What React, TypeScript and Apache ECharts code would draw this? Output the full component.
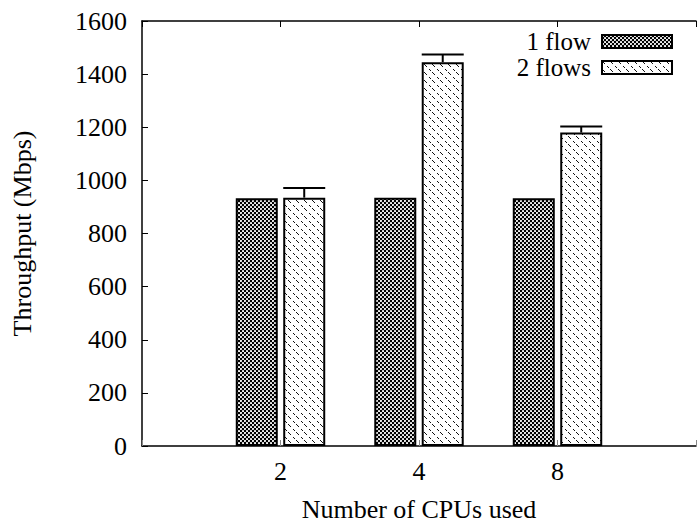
import React, { useEffect, useRef } from "react";
import * as echarts from "echarts";

const categories = ["2", "4", "8"];
const oneFlow = [933, 935, 933];
const twoFlows = [935, 1445, 1180];
const twoFlowsUpper = [971, 1474, 1203];
const seriesNames = ["1 flow", "2 flows"];
const yTicks = { min: 0, max: 1600, interval: 200 };

const FONT = "'Liberation Serif', 'DejaVu Serif', 'Times New Roman', serif";

function crossPattern(): HTMLCanvasElement {
  const c = document.createElement("canvas");
  c.width = 4;
  c.height = 4;
  const ctx = c.getContext("2d")!;
  ctx.fillStyle = "#000";
  ctx.fillRect(0, 0, 4, 4);
  ctx.fillStyle = "#fff";
  ctx.beginPath();
  ctx.arc(1, 1, 1.05, 0, Math.PI * 2);
  ctx.fill();
  ctx.beginPath();
  ctx.arc(3, 3, 1.05, 0, Math.PI * 2);
  ctx.fill();
  return c;
}

function diagPattern(): HTMLCanvasElement {
  const c = document.createElement("canvas");
  c.width = 8;
  c.height = 8;
  const ctx = c.getContext("2d")!;
  ctx.fillStyle = "#fff";
  ctx.fillRect(0, 0, 8, 8);
  ctx.fillStyle = "#111";
  [0, 1, 2, 5, 6].forEach((i) => ctx.fillRect(i, i, 1, 1));
  return c;
}

export default function App() {
  const ref = useRef<HTMLDivElement>(null);
  useEffect(() => {
    if (!ref.current) return;
    const chart = echarts.init(ref.current, undefined, { renderer: "svg" });
    const axisData = ["", ...categories, ""];
    const barWidth = 42;
    const gapRatio = 0.13;
    const offset = (barWidth + barWidth * gapRatio) / 2;
    const textStyle = { fontFamily: FONT, fontSize: 26, color: "#000" };
    chart.setOption({
      animation: false,
      textStyle: { fontFamily: FONT },
      grid: { left: 142, top: 21, bottom: 74, width: 568, containLabel: false },
      legend: {
        data: seriesNames,
        orient: "vertical",
        align: "right",
        right: 21,
        top: 24,
        itemWidth: 70,
        itemHeight: 13,
        itemGap: 1,
        icon: "rect",
        textStyle: { ...textStyle, fontSize: 25, lineHeight: 25, padding: [0, 6, 0, 0] },
      },
      xAxis: [
        {
          type: "category",
          data: axisData,
          boundaryGap: false,
          position: "bottom",
          axisLine: { lineStyle: { color: "#000", width: 1.5 } },
          axisTick: { inside: true, length: 6, lineStyle: { color: "#888" } },
          axisLabel: { ...textStyle, margin: 12, interval: 0 },
          name: "Number of CPUs used",
          nameLocation: "middle",
          nameGap: 50,
          nameTextStyle: textStyle,
          splitLine: { show: false },
        },
        {
          type: "category",
          data: axisData,
          boundaryGap: false,
          position: "top",
          axisLine: { lineStyle: { color: "#000", width: 1.5 } },
          axisTick: { inside: true, length: 6, lineStyle: { color: "#000" } },
          axisLabel: { show: false },
          splitLine: { show: false },
        },
      ],
      yAxis: {
        type: "value",
        min: yTicks.min,
        max: yTicks.max,
        interval: yTicks.interval,
        axisLine: { show: true, lineStyle: { color: "#000", width: 1.5 } },
        axisTick: { show: true, inside: true, length: 6, lineStyle: { color: "#000" } },
        axisLabel: { ...textStyle, margin: 15, formatter: (v: number) => String(v) },
        splitLine: { show: false },
        name: "Throughput (Mbps)",
        nameLocation: "middle",
        nameGap: 107,
        nameTextStyle: textStyle,
      },
      series: [
        {
          name: seriesNames[0],
          type: "bar",
          barWidth,
          barGap: gapRatio * 100 + "%",
          data: categories.map((c, i) => [c, oneFlow[i]]),
          itemStyle: {
            color: { image: crossPattern(), repeat: "repeat" },
            borderColor: "#000",
            borderWidth: 2,
          },
        },
        {
          name: seriesNames[1],
          type: "bar",
          barWidth,
          barGap: gapRatio * 100 + "%",
          data: categories.map((c, i) => [c, twoFlows[i]]),
          itemStyle: {
            color: { image: diagPattern(), repeat: "repeat" },
            borderColor: "#000",
            borderWidth: 2,
          },
        },
        {
          name: "errors",
          type: "custom",
          z: 5,
          data: categories.map((c, i) => [c, twoFlows[i], twoFlowsUpper[i]]),
          renderItem: (params: any, api: any) => {
            const base = api.coord([api.value(0), api.value(1)]);
            const top = api.coord([api.value(0), api.value(2)]);
            const x = base[0] + offset;
            const half = barWidth / 2;
            const style = { stroke: "#000", lineWidth: 2 };
            return {
              type: "group",
              children: [
                { type: "line", shape: { x1: x, y1: base[1], x2: x, y2: top[1] }, style },
                { type: "line", shape: { x1: x - half, y1: top[1], x2: x + half, y2: top[1] }, style },
              ],
            };
          },
        },
      ],
    });
    return () => chart.dispose();
  }, []);
  return (
    <div
      ref={ref}
      style={{ position: "fixed", left: 0, top: 0, width: 699, height: 527, background: "#fff" }}
    />
  );
}
